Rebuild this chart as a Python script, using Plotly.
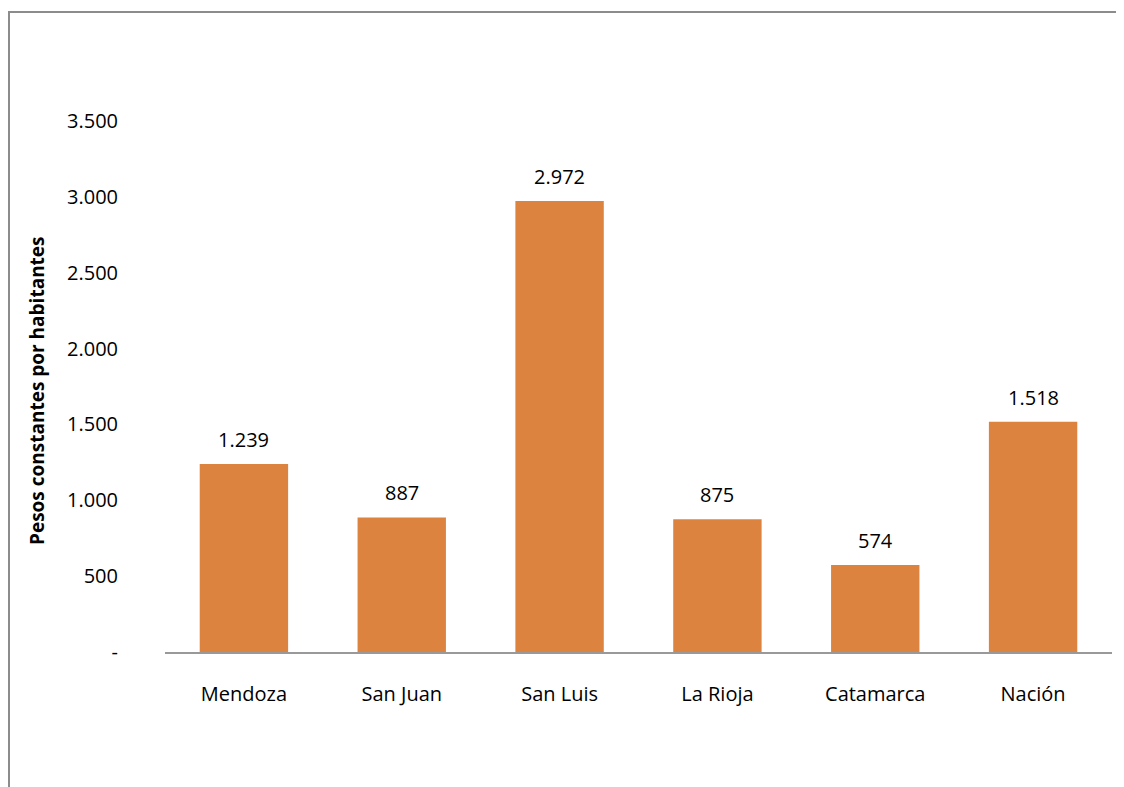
import plotly.graph_objects as go

provincias = ["Mendoza", "San Juan", "San Luis", "La Rioja", "Catamarca", "Nación"]
pesos_por_hab = [1239, 887, 2972, 875, 574, 1518]
y_ticks = [0, 500, 1000, 1500, 2000, 2500, 3000, 3500]
y_tick_text = ["-", "500", "1.000", "1.500", "2.000", "2.500", "3.000", "3.500"]

# page body has an 8px margin, so work in coords shifted by 8
W, H = 1116, 779
L, R, T, B = 157, 12, 113, 135
pw, ph = W - L - R, H - T - B
axis_y = 644  # pixel row of the x axis line

fnt = "Open Sans"

fig = go.Figure()
fig.add_trace(go.Bar(x=provincias, y=pesos_por_hab,
                     marker=dict(color="#DC843F", line=dict(width=0)),
                     hoverinfo="x+y"))

# data labels above bars
for p, v in zip(provincias, pesos_por_hab):
    fig.add_annotation(x=p, y=v, text=f"{v:,}".replace(",", "."),
                       showarrow=False, yanchor="bottom", yshift=9,
                       font=dict(family=fnt, size=20, color="black"))

# y axis title
fig.add_annotation(xref="paper", yref="paper", x=(29 - L) / pw, y=(axis_y - 383) / ph,
                   text="<b>Pesos constantes por habitantes</b>", textangle=-90,
                   showarrow=False, xanchor="center", yanchor="middle",
                   font=dict(family=fnt, size=19, color="black"))

# outer chart frame (runs off the right and bottom edges)
fig.add_shape(type="rect", xref="paper", yref="paper",
              x0=(1 - L) / pw, x1=(1140 - L) / pw,
              y0=(axis_y - 800) / ph, y1=(axis_y - 4) / ph,
              line=dict(color="#8c8c8c", width=2), layer="below")

fig.update_layout(
    width=W, height=H,
    margin=dict(l=L, r=R, t=T, b=B),
    plot_bgcolor="white", paper_bgcolor="white",
    bargap=0.44, showlegend=False,
    font=dict(family=fnt, size=20, color="black"),
    xaxis=dict(showgrid=False, showline=True, linecolor="#999999", linewidth=2,
               ticks="", ticklabelstandoff=23, tickfont=dict(size=20)),
    yaxis=dict(range=[0, 3500], showgrid=False, zeroline=False, showline=False,
               tickvals=y_ticks, ticktext=y_tick_text, ticks="",
               ticklabelstandoff=46, tickfont=dict(size=20)),
)

fig.write_html("out.html")
